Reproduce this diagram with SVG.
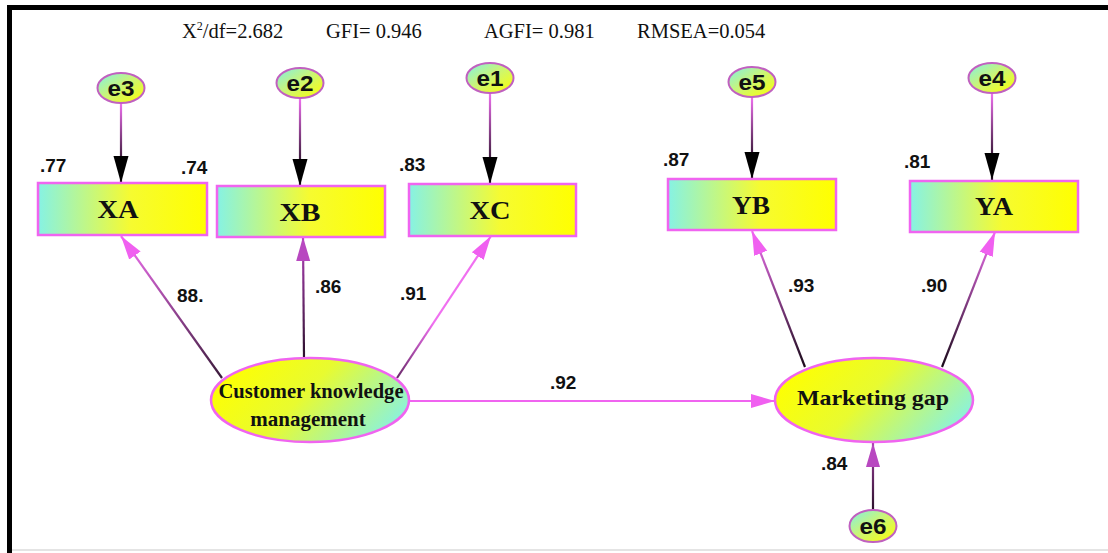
<svg xmlns="http://www.w3.org/2000/svg" width="1108" height="553" viewBox="0 0 1108 553">
<style>
.fit{font-family:"Liberation Serif","Times New Roman",serif;font-size:20.5px;fill:#111}
.num{font-family:"Liberation Sans",Arial,sans-serif;font-size:19px;font-weight:bold;fill:#111}
.ev{font-family:"Liberation Sans",Arial,sans-serif;font-size:22px;font-weight:bold;fill:#111;text-anchor:middle}
.obs{font-family:"Liberation Serif","Times New Roman",serif;font-size:25px;font-weight:bold;fill:#111;text-anchor:middle}
.lat{font-family:"Liberation Serif","Times New Roman",serif;font-size:21px;font-weight:bold;fill:#111;text-anchor:middle}
.box{stroke:#f064f0;stroke-width:2.5;fill:url(#gBox)}
.err{stroke:#c060c0;stroke-width:2;fill:url(#gErr)}
.latE{stroke:#f064f0;stroke-width:2.5;fill:url(#gLat)}
.c{fill:none;stroke-width:2.2}
</style>
<defs>
<linearGradient id="gBox" x1="0" y1="0" x2="1" y2="0">
<stop offset="0" stop-color="#86f2e4"/><stop offset="0.55" stop-color="#f6fb30"/><stop offset="1" stop-color="#ffff00"/>
</linearGradient>
<linearGradient id="gErr" x1="0" y1="0" x2="1" y2="1">
<stop offset="0" stop-color="#80f0e8"/><stop offset="0.45" stop-color="#c8f57a"/><stop offset="1" stop-color="#ffff00"/>
</linearGradient>
<linearGradient id="gLat" x1="0" y1="0.3" x2="1" y2="0.7">
<stop offset="0" stop-color="#ffff00"/><stop offset="0.45" stop-color="#e8fb30"/><stop offset="1" stop-color="#86f2e4"/>
</linearGradient>
<linearGradient id="gE3" gradientUnits="userSpaceOnUse" x1="0" y1="103" x2="0" y2="160"><stop offset="0" stop-color="#f070f0"/><stop offset="1" stop-color="#3a1a3a"/></linearGradient>
<linearGradient id="gE2" gradientUnits="userSpaceOnUse" x1="0" y1="98" x2="0" y2="160"><stop offset="0" stop-color="#f070f0"/><stop offset="1" stop-color="#3a1a3a"/></linearGradient>
<linearGradient id="gE1" gradientUnits="userSpaceOnUse" x1="0" y1="93" x2="0" y2="160"><stop offset="0" stop-color="#f070f0"/><stop offset="1" stop-color="#3a1a3a"/></linearGradient>
<linearGradient id="gE5" gradientUnits="userSpaceOnUse" x1="0" y1="97" x2="0" y2="155"><stop offset="0" stop-color="#f070f0"/><stop offset="1" stop-color="#3a1a3a"/></linearGradient>
<linearGradient id="gE4" gradientUnits="userSpaceOnUse" x1="0" y1="93" x2="0" y2="155"><stop offset="0" stop-color="#f070f0"/><stop offset="1" stop-color="#3a1a3a"/></linearGradient>
<linearGradient id="gLA" gradientUnits="userSpaceOnUse" x1="222" y1="378" x2="125" y2="240"><stop offset="0" stop-color="#3a1a3a"/><stop offset="1" stop-color="#f070f0"/></linearGradient>
<linearGradient id="gLB" gradientUnits="userSpaceOnUse" x1="0" y1="358" x2="0" y2="240"><stop offset="0" stop-color="#2a102a"/><stop offset="1" stop-color="#b040b8"/></linearGradient>
<linearGradient id="gLC" gradientUnits="userSpaceOnUse" x1="397" y1="378" x2="488" y2="240"><stop offset="0" stop-color="#6a2a6a"/><stop offset="0.4" stop-color="#f070f0"/></linearGradient>
<linearGradient id="gLYB" gradientUnits="userSpaceOnUse" x1="805" y1="367" x2="752" y2="232"><stop offset="0" stop-color="#1a0a1a"/><stop offset="1" stop-color="#f070f0"/></linearGradient>
<linearGradient id="gLYA" gradientUnits="userSpaceOnUse" x1="942" y1="367" x2="992" y2="232"><stop offset="0" stop-color="#1a0a1a"/><stop offset="1" stop-color="#f070f0"/></linearGradient>
<linearGradient id="gL6" gradientUnits="userSpaceOnUse" x1="0" y1="510" x2="0" y2="445"><stop offset="0" stop-color="#2a102a"/><stop offset="1" stop-color="#a040a0"/></linearGradient>
<marker id="aBlk" markerUnits="userSpaceOnUse" markerWidth="27" markerHeight="16" refX="27" refY="8" orient="auto"><path d="M0,0.5 L27,8 L0,15.5 z" fill="#000"/></marker>
<marker id="aPink" markerUnits="userSpaceOnUse" markerWidth="24" markerHeight="16" refX="24" refY="8" orient="auto"><path d="M0,1 L24,8 L0,15 z" fill="#f060f0"/></marker>
<marker id="aPurp" markerUnits="userSpaceOnUse" markerWidth="24" markerHeight="16" refX="24" refY="8" orient="auto"><path d="M0,1 L24,8 L0,15 z" fill="#b848c0"/></marker>
</defs>
<rect x="0" y="0" width="1108" height="553" fill="#fff"/>
<rect x="7" y="5" width="1101" height="5" fill="#000"/>
<rect x="7" y="5" width="5" height="548" fill="#000"/>
<rect x="12" y="549" width="1096" height="2" fill="#e4e4e4"/>

<g id="fit">
<text class="fit" x="182" y="38">X<tspan dy="-8" font-size="12">2</tspan><tspan dy="8">/df=2.682</tspan></text>
<text class="fit" x="326" y="38">GFI= 0.946</text>
<text class="fit" x="484" y="38">AGFI= 0.981</text>
<text class="fit" x="637" y="38">RMSEA=0.054</text>
</g>

<g id="connectors">
<line class="c" x1="121" y1="103" x2="121" y2="183" stroke="url(#gE3)" marker-end="url(#aBlk)"/>
<line class="c" x1="300" y1="98" x2="300" y2="186" stroke="url(#gE2)" marker-end="url(#aBlk)"/>
<line class="c" x1="490" y1="93" x2="490" y2="184" stroke="url(#gE1)" marker-end="url(#aBlk)"/>
<line class="c" x1="752" y1="97" x2="752" y2="179" stroke="url(#gE5)" marker-end="url(#aBlk)"/>
<line class="c" x1="992" y1="93" x2="992" y2="180" stroke="url(#gE4)" marker-end="url(#aBlk)"/>
<line class="c" x1="222" y1="378" x2="121" y2="236" stroke="url(#gLA)" marker-end="url(#aPink)"/>
<line class="c" x1="304" y1="358" x2="303" y2="237" stroke="url(#gLB)" marker-end="url(#aPurp)"/>
<line class="c" x1="397" y1="378" x2="491" y2="236" stroke="url(#gLC)" marker-end="url(#aPink)"/>
<line class="c" x1="805" y1="367" x2="752" y2="231" stroke="url(#gLYB)" marker-end="url(#aPink)"/>
<line class="c" x1="942" y1="367" x2="995" y2="232" stroke="url(#gLYA)" marker-end="url(#aPink)"/>
<line class="c" x1="410" y1="401" x2="775" y2="401" stroke="#f064f0" marker-end="url(#aPink)"/>
<line class="c" x1="873" y1="510" x2="873" y2="443" stroke="url(#gL6)" marker-end="url(#aPurp)"/>
</g>

<g id="labels">
<text class="num" x="40" y="172">.77</text>
<text class="num" x="181" y="174">.74</text>
<text class="num" x="399" y="171">.83</text>
<text class="num" x="663" y="166">.87</text>
<text class="num" x="904" y="168">.81</text>
<text class="num" x="177" y="302">88.</text>
<text class="num" x="315" y="293">.86</text>
<text class="num" x="400" y="300">.91</text>
<text class="num" x="550" y="389">.92</text>
<text class="num" x="788" y="292">.93</text>
<text class="num" x="921" y="292">.90</text>
<text class="num" x="821" y="470">.84</text>
</g>

<g id="e3"><ellipse class="err" cx="121" cy="88" rx="23.5" ry="15"/><text class="ev" x="121" y="96" textLength="27" lengthAdjust="spacingAndGlyphs">e3</text></g>
<g id="e2"><ellipse class="err" cx="300" cy="83" rx="23.5" ry="15"/><text class="ev" x="300" y="91" textLength="27" lengthAdjust="spacingAndGlyphs">e2</text></g>
<g id="e1"><ellipse class="err" cx="490" cy="78" rx="23.5" ry="15"/><text class="ev" x="490" y="86" textLength="27" lengthAdjust="spacingAndGlyphs">e1</text></g>
<g id="e5"><ellipse class="err" cx="752" cy="82" rx="23.5" ry="15"/><text class="ev" x="752" y="90" textLength="27" lengthAdjust="spacingAndGlyphs">e5</text></g>
<g id="e4"><ellipse class="err" cx="992" cy="78" rx="23.5" ry="15"/><text class="ev" x="992" y="86" textLength="27" lengthAdjust="spacingAndGlyphs">e4</text></g>
<g id="e6"><ellipse class="err" cx="873" cy="526" rx="23.5" ry="16"/><text class="ev" x="873" y="534" textLength="27" lengthAdjust="spacingAndGlyphs">e6</text></g>

<g id="XA"><rect class="box" x="38" y="183" width="169" height="52"/><text class="obs" x="118" y="218" textLength="41" lengthAdjust="spacingAndGlyphs">XA</text></g>
<g id="XB"><rect class="box" x="217" y="186" width="168" height="51"/><text class="obs" x="300" y="221" textLength="41" lengthAdjust="spacingAndGlyphs">XB</text></g>
<g id="XC"><rect class="box" x="409" y="184" width="167" height="52"/><text class="obs" x="490" y="219" textLength="41" lengthAdjust="spacingAndGlyphs">XC</text></g>
<g id="YB"><rect class="box" x="668" y="179" width="168" height="51"/><text class="obs" x="751" y="214" textLength="38" lengthAdjust="spacingAndGlyphs">YB</text></g>
<g id="YA"><rect class="box" x="910" y="181" width="168" height="51"/><text class="obs" x="994" y="215" textLength="38" lengthAdjust="spacingAndGlyphs">YA</text></g>

<g id="CKM"><ellipse class="latE" cx="310" cy="400" rx="99" ry="42"/>
<text class="lat" x="311" y="398" textLength="185" lengthAdjust="spacingAndGlyphs">Customer knowledge</text>
<text class="lat" x="308" y="426">management</text></g>
<g id="MG"><ellipse class="latE" cx="874" cy="400" rx="99" ry="42"/>
<text class="lat" x="873" y="405" font-size="22" textLength="152" lengthAdjust="spacingAndGlyphs">Marketing gap</text></g>
</svg>
